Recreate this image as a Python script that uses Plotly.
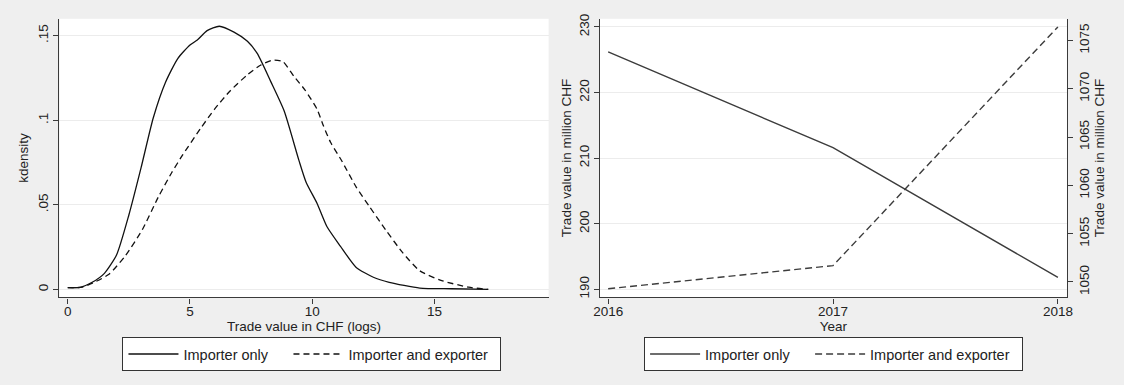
import plotly.graph_objects as go

# Kernel density of log trade values (left panel)
kd_x_imp_only = [0, 0.5, 1.0, 1.5, 2.0, 2.5, 3.0, 3.5, 4.0, 4.5, 5.0, 5.3, 5.7, 6.2, 6.8,
                 7.35, 7.75, 8.3, 8.85, 9.45, 9.75, 10.2, 10.6, 11.15, 11.8, 12.5, 13.15, 14.4, 15.7, 17.2]
kd_y_imp_only = [0.001, 0.0012, 0.0042, 0.0095, 0.0205, 0.044, 0.072, 0.1015, 0.1225, 0.1365, 0.1445,
                 0.1475, 0.153, 0.1556, 0.1521, 0.1467, 0.1395, 0.123, 0.1056, 0.0766, 0.0634, 0.0508,
                 0.0372, 0.0256, 0.013, 0.0072, 0.0042, 0.0008, 0.0004, 0.0]

kd_x_imp_exp = [0, 0.6, 1.15, 1.7, 2.35, 3.05, 3.7, 4.25, 4.7, 5.45, 6.0, 6.65, 7.35, 7.9, 8.4, 8.8,
                9.25, 9.7, 10.2, 10.45, 10.75, 11.2, 11.8, 12.35, 13.0, 13.7, 14.4, 15.3, 16.4, 17.2]
kd_y_imp_exp = [0.001, 0.0014, 0.0047, 0.0091, 0.0198, 0.0353, 0.0545, 0.069, 0.0795, 0.0955, 0.1065,
                0.1175, 0.1269, 0.1327, 0.1356, 0.1347, 0.126, 0.118, 0.1065, 0.097, 0.087, 0.0762,
                0.0605, 0.0488, 0.0353, 0.0217, 0.011, 0.0052, 0.0013, 0.0]

# Yearly trade value in million CHF (right panel)
years = [2016, 2017, 2018]
value_imp_only = [226.2, 211.6, 191.8]
value_imp_exp = [1049.3, 1051.7, 1076.4]

kd_xticks = [0, 5, 10, 15]
kd_yticks = [0, 0.05, 0.1, 0.15]
kd_yticklabels = ["0", ".05", ".1", ".15"]
left_yticks = [190, 200, 210, 220, 230]
right_yticks = [1050, 1055, 1060, 1065, 1070, 1075]

FONT = "Liberation Sans, Arial, Helvetica, sans-serif"
AXIS_COLOR = "#3a3a3a"
GRID_COLOR = "#ececec"
BG = "#efefef"

fig = go.Figure()

fig.add_trace(go.Scatter(x=kd_x_imp_only, y=kd_y_imp_only, mode="lines", name="Importer only",
                         line=dict(color="#111111", width=1.3, shape="spline", smoothing=0.6),
                         xaxis="x", yaxis="y", legend="legend", legendwidth=100))
fig.add_trace(go.Scatter(x=kd_x_imp_exp, y=kd_y_imp_exp, mode="lines", name="Importer and exporter",
                         line=dict(color="#111111", width=1.3, dash="6px,4px", shape="spline", smoothing=0.6),
                         xaxis="x", yaxis="y", legend="legend", legendwidth=147))

fig.add_trace(go.Scatter(x=years, y=value_imp_only, mode="lines", name="Importer only",
                         line=dict(color="#3c3c3c", width=1.4),
                         xaxis="x2", yaxis="y2", legend="legend2", legendwidth=100))
fig.add_trace(go.Scatter(x=years, y=value_imp_exp, mode="lines", name="Importer and exporter",
                         line=dict(color="#3c3c3c", width=1.4, dash="7px,4px"),
                         xaxis="x2", yaxis="y3", legend="legend2", legendwidth=147))

axis_common = dict(showline=True, linecolor=AXIS_COLOR, linewidth=1.3, ticks="outside",
                   ticklen=5, tickcolor=AXIS_COLOR, tickwidth=1, zeroline=False,
                   tickfont=dict(family=FONT, size=13.5, color="#222"),
                   title_font=dict(family=FONT, size=13.5, color="#222"))

legend_common = dict(orientation="h", bgcolor="white", bordercolor="#333", borderwidth=1,
                     font=dict(family=FONT, size=14.5, color="#222"), itemwidth=50,
                     xanchor="center", yanchor="middle", y=0.079, xref="paper", yref="paper")

fig.update_layout(
    width=1124, height=385,
    margin=dict(l=0, r=0, t=0, b=0),
    paper_bgcolor=BG, plot_bgcolor="white",
    font=dict(family=FONT, color="#222"),
    xaxis=dict(domain=[0.0472, 0.4875], range=[-0.34, 19.67], anchor="y",
               tickvals=kd_xticks, showgrid=False, ticklabelstandoff=-4,
               title=dict(text="Trade value in CHF (logs)", standoff=1), **axis_common),
    yaxis=dict(domain=[0.2286, 0.9636], range=[-0.0047, 0.16], anchor="x",
               tickvals=kd_yticks, ticktext=kd_yticklabels, tickangle=-90,
               showgrid=True, gridcolor=GRID_COLOR, gridwidth=1,
               title=dict(text="kdensity", standoff=4), **axis_common),
    xaxis2=dict(domain=[0.5338, 0.9540], range=[2015.964, 2018.04], anchor="y2",
                tickvals=years, showgrid=False, ticklabelstandoff=-4,
                title=dict(text="Year", standoff=1), **axis_common),
    yaxis2=dict(domain=[0.2286, 0.9636], range=[188.76, 231.25], anchor="x2",
                tickvals=left_yticks, tickangle=-90,
                showgrid=True, gridcolor=GRID_COLOR, gridwidth=1,
                title=dict(text="Trade value in million CHF", standoff=1), **axis_common),
    yaxis3=dict(range=[1048.41, 1077.24], overlaying="y2", side="right", anchor="x2",
                tickvals=right_yticks, tickangle=-90, showgrid=False,
                title=dict(text="Trade value in million CHF", standoff=1), **axis_common),
    legend=dict(x=0.2745, **legend_common),
    legend2=dict(x=0.744, **legend_common),
)

fig.write_html("out.html")
